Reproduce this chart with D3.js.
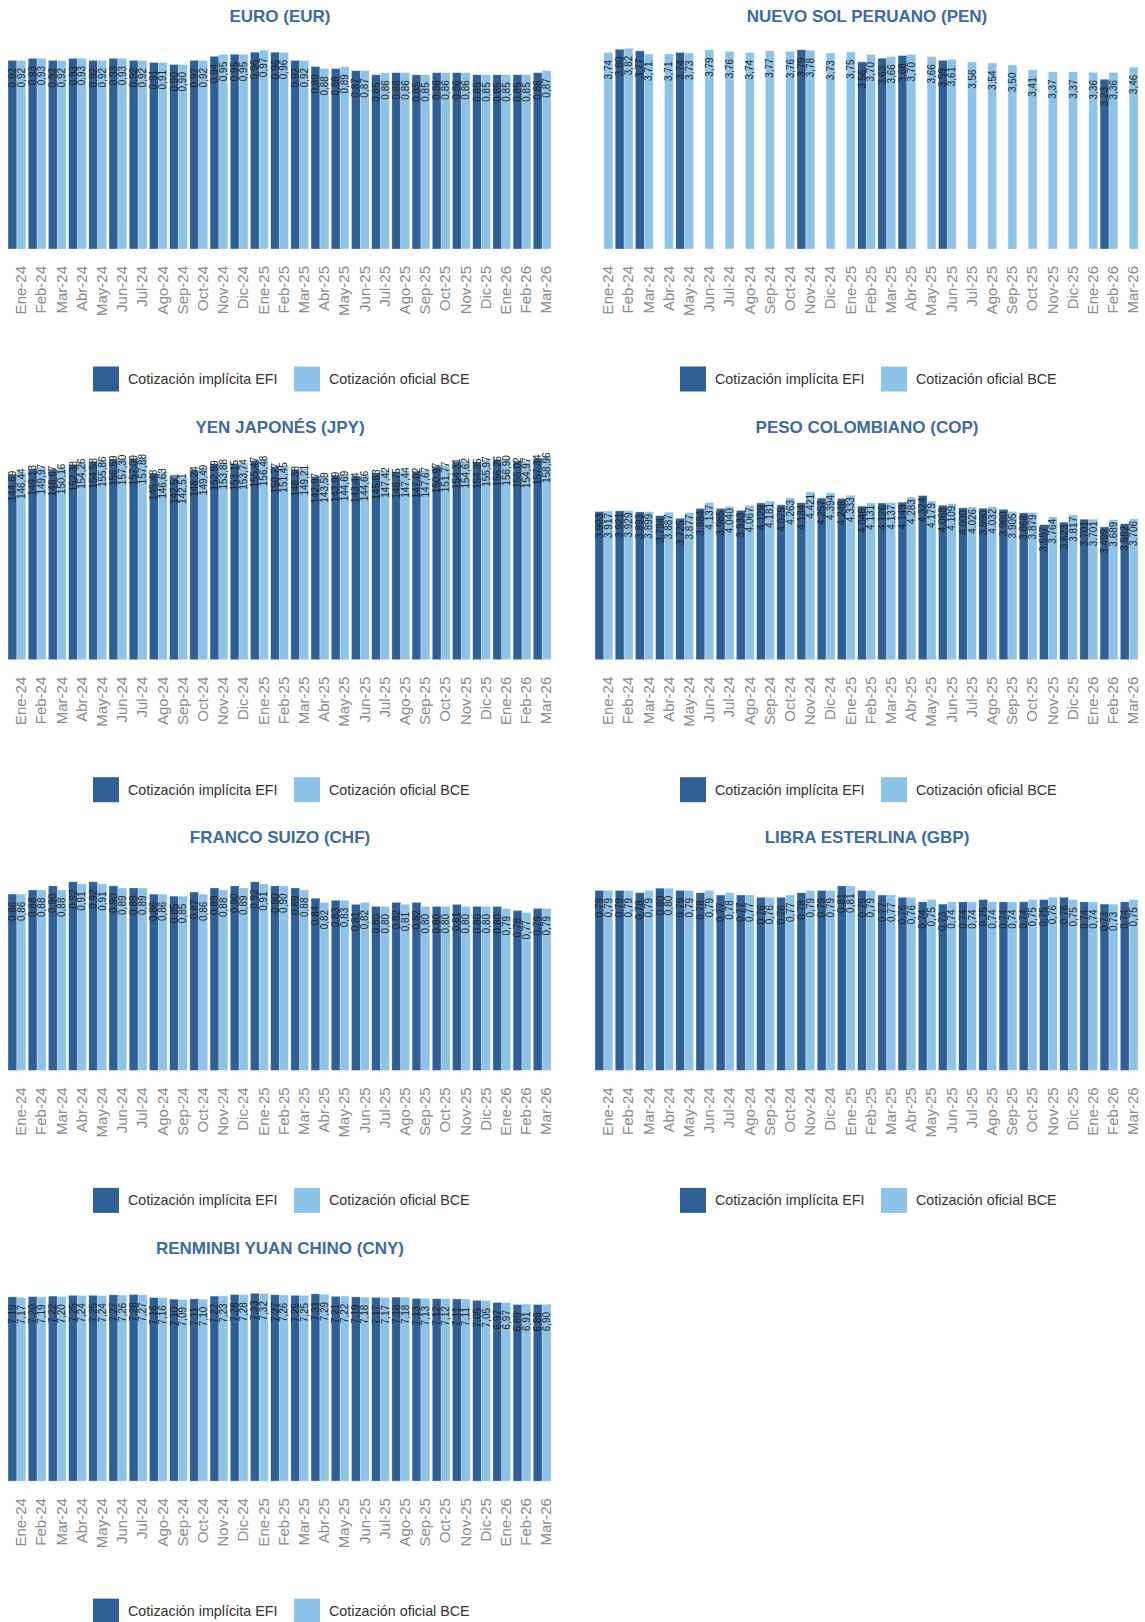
<!DOCTYPE html>
<html>
<head>
<meta charset="utf-8">
<script src="https://cdn.jsdelivr.net/npm/d3@7"></script>
<style>
  body { margin: 0; background: #fff; }
  svg { display: block; font-family: "Liberation Sans", Arial, sans-serif; }
</style>
</head>
<body>
<svg id="chart" width="1145" height="1622"></svg>
<script>
// month categories
const months = [
  'Ene-24', 'Feb-24', 'Mar-24', 'Abr-24', 'May-24', 'Jun-24', 'Jul-24', 'Ago-24', 'Sep-24', 'Oct-24', 'Nov-24', 'Dic-24',
  'Ene-25', 'Feb-25', 'Mar-25', 'Abr-25', 'May-25', 'Jun-25', 'Jul-25', 'Ago-25', 'Sep-25', 'Oct-25', 'Nov-25', 'Dic-25',
  'Ene-26', 'Feb-26', 'Mar-26'
];
const seriesNames = ['Cotización implícita EFI', 'Cotización oficial BCE'];

// EUR
const eurEfi = [0.92, 0.93, 0.92, 0.93, 0.92, 0.93, 0.92, 0.91, 0.90, 0.92, 0.94, 0.95, 0.96, 0.96, 0.92, 0.89, 0.88, 0.87, 0.85, 0.86, 0.85, 0.86, 0.86, 0.85, 0.85, 0.85, 0.86];
const eurBce = [0.92, 0.93, 0.92, 0.93, 0.92, 0.93, 0.92, 0.91, 0.90, 0.92, 0.95, 0.95, 0.97, 0.96, 0.92, 0.88, 0.89, 0.87, 0.86, 0.86, 0.85, 0.86, 0.86, 0.85, 0.85, 0.85, 0.87];
// PEN (EFI missing in many months)
const penEfi = [null, 3.80, 3.77, null, 3.74, null, null, null, null, null, 3.79, null, null, 3.56, 3.63, 3.68, null, 3.59, null, null, null, null, null, null, null, 3.23, null];
const penBce = [3.74, 3.82, 3.71, 3.71, 3.73, 3.79, 3.76, 3.74, 3.77, 3.76, 3.78, 3.73, 3.75, 3.70, 3.66, 3.70, 3.66, 3.61, 3.56, 3.54, 3.50, 3.41, 3.37, 3.37, 3.36, 3.36, 3.46];
// JPY
const jpyEfi = [144.69, 149.13, 148.67, 152.38, 154.58, 156.59, 157.09, 145.48, 142.51, 148.24, 152.99, 153.15, 155.47, 150.77, 148.38, 142.97, 143.99, 143.44, 145.83, 146.75, 147.02, 150.97, 154.31, 154.35, 156.26, 155.02, 157.34];
const jpyBce = [146.44, 149.97, 150.16, 154.26, 155.86, 157.30, 157.88, 146.63, 142.51, 149.49, 153.88, 153.74, 156.48, 151.45, 149.21, 143.59, 144.69, 144.66, 147.42, 147.44, 147.67, 151.77, 154.62, 155.97, 156.90, 154.97, 158.96];
// COP
const copEfi = [3903, 3921, 3893, 3794, 3725, 3984, 3985, 3933, 4129, 4079, 4134, 4257, 4248, 4046, 4126, 4149, 4324, 4068, 4000, 3990, 3960, 3868, 3557, 3623, 3701, 3499, 3582];
const copBce = [3917, 3929, 3899, 3887, 3877, 4137, 4040, 4067, 4181, 4263, 4421, 4394, 4333, 4131, 4137, 4283, 4179, 4109, 4026, 4032, 3905, 3879, 3764, 3817, 3701, 3689, 3706];
// CHF
const chfEfi = [0.86, 0.88, 0.90, 0.92, 0.92, 0.90, 0.89, 0.86, 0.85, 0.87, 0.89, 0.90, 0.92, 0.90, 0.89, 0.84, 0.83, 0.81, 0.80, 0.82, 0.82, 0.80, 0.81, 0.80, 0.80, 0.78, 0.79];
const chfBce = [0.86, 0.88, 0.88, 0.91, 0.91, 0.89, 0.89, 0.86, 0.85, 0.86, 0.88, 0.89, 0.91, 0.90, 0.88, 0.82, 0.83, 0.82, 0.80, 0.81, 0.80, 0.80, 0.80, 0.80, 0.79, 0.77, 0.79];
// GBP
const gbpEfi = [0.79, 0.79, 0.78, 0.80, 0.79, 0.78, 0.77, 0.77, 0.76, 0.76, 0.78, 0.79, 0.81, 0.79, 0.77, 0.76, 0.74, 0.73, 0.74, 0.75, 0.74, 0.74, 0.75, 0.76, 0.74, 0.73, 0.74];
const gbpBce = [0.79, 0.79, 0.79, 0.80, 0.79, 0.79, 0.78, 0.77, 0.76, 0.77, 0.79, 0.79, 0.81, 0.79, 0.77, 0.76, 0.75, 0.74, 0.74, 0.74, 0.74, 0.75, 0.76, 0.75, 0.74, 0.73, 0.75];
// CNY
const cnyEfi = [7.19, 7.20, 7.22, 7.25, 7.25, 7.27, 7.28, 7.16, 7.10, 7.11, 7.22, 7.28, 7.33, 7.27, 7.25, 7.31, 7.21, 7.19, 7.17, 7.18, 7.13, 7.12, 7.11, 7.05, 6.97, 6.89, 6.89];
const cnyBce = [7.17, 7.19, 7.20, 7.24, 7.24, 7.26, 7.27, 7.16, 7.09, 7.10, 7.23, 7.28, 7.32, 7.26, 7.25, 7.29, 7.22, 7.18, 7.17, 7.18, 7.13, 7.12, 7.11, 7.05, 6.97, 6.91, 6.90];

const titles = ['EURO (EUR)', 'NUEVO SOL PERUANO (PEN)', 'YEN JAPONÉS (JPY)', 'PESO COLOMBIANO (COP)',
  'FRANCO SUIZO (CHF)', 'LIBRA ESTERLINA (GBP)', 'RENMINBI YUAN CHINO (CNY)'];
// hidden value axis maximum of each panel
const axisMax = [1.0, 3.9, 160, 5400, 1.0, 0.9, 8.0];

const es = d3.formatLocale({ decimal: ',', thousands: '.', grouping: [3], currency: ['', ' €'] });
const fmt2 = es.format('.2f');
const fmtCop = es.format(',.0f');

const panels = [
  { efi: eurEfi, bce: eurBce, fmt: fmt2 },
  { efi: penEfi, bce: penBce, fmt: fmt2 },
  { efi: jpyEfi, bce: jpyBce, fmt: fmt2 },
  { efi: copEfi, bce: copBce, fmt: fmtCop },
  { efi: chfEfi, bce: chfBce, fmt: fmt2 },
  { efi: gbpEfi, bce: gbpBce, fmt: fmt2 },
  { efi: cnyEfi, bce: cnyBce, fmt: fmt2 },
];

const colors = ['#2f5f94', '#8dc3e9'];
const colW = 587;
const rowH = 410.7;
const plotH = 205;
const baseY = 249;

const svg = d3.select('#chart');

panels.forEach((p, i) => {
  const col = i % 2;
  const row = Math.floor(i / 2);
  const g = svg.append('g')
    .attr('transform', `translate(${col * colW},${row * rowH})`);

  // title
  g.append('text')
    .attr('x', 280)
    .attr('y', 22)
    .attr('text-anchor', 'middle')
    .attr('font-size', '17px')
    .attr('font-weight', 'bold')
    .attr('fill', '#3c6aa3')
    .text(titles[i]);

  const x = d3.scaleBand()
    .domain(months)
    .range([6.8, 552.3])
    .paddingInner(0.12)
    .paddingOuter(0.06);

  const xs = d3.scaleBand()
    .domain([0, 1])
    .range([0, x.bandwidth()]);

  const y = d3.scaleLinear()
    .domain([0, axisMax[i]])
    .range([baseY, baseY - plotH]);

  const rows = months.map((m, j) => ({ m, vals: [p.efi[j], p.bce[j]] }));

  const groups = g.append('g')
    .selectAll('g')
    .data(rows)
    .join('g')
    .attr('transform', d => `translate(${x(d.m)},0)`);

  const cells = groups.selectAll('g')
    .data(d => d.vals.map((v, k) => ({ v, k })).filter(d => d.v != null))
    .join('g');

  cells.append('rect')
    .attr('x', d => xs(d.k))
    .attr('width', xs.bandwidth())
    .attr('y', d => y(d.v))
    .attr('height', d => y(0) - y(d.v))
    .attr('fill', d => colors[d.k])
    .attr('stroke', '#ffffff')
    .attr('stroke-opacity', 0.5)
    .attr('stroke-width', 0.6);

  cells.append('text')
    .attr('transform', d => `translate(${xs(d.k) + xs.bandwidth() / 2},${y(d.v) + 27}) rotate(-90)`)
    .attr('dy', '0.35em')
    .attr('text-anchor', 'start')
    .attr('font-size', '10px')
    .attr('fill', '#222')
    .text(d => p.fmt(d.v));

  // month axis (line hidden)
  const ax = g.append('g')
    .attr('transform', `translate(0,${baseY})`)
    .call(d3.axisBottom(x).tickSize(0).tickPadding(0));
  ax.select('.domain').remove();
  ax.selectAll('text')
    .attr('transform', 'translate(4,17) rotate(-90)')
    .attr('x', 0)
    .attr('y', 0)
    .attr('dy', '0.35em')
    .attr('text-anchor', 'end')
    .attr('font-size', '15px')
    .attr('font-family', '"Liberation Sans", Arial, sans-serif')
    .attr('fill', '#8a8a8a');

  // legend
  const legend = g.append('g')
    .attr('transform', `translate(0,${baseY + 130})`);
  const li = legend.selectAll('g')
    .data(seriesNames)
    .join('g')
    .attr('transform', (d, k) => `translate(${93 + k * 201},0)`);
  li.append('rect')
    .attr('x', 0)
    .attr('y', -12.5)
    .attr('width', 26)
    .attr('height', 25)
    .attr('fill', (d, k) => colors[k]);
  li.append('text')
    .attr('x', 35)
    .attr('y', 0)
    .attr('dy', '0.35em')
    .attr('font-size', '14.3px')
    .attr('fill', '#333')
    .text(d => d);
});
</script>
</body>
</html>
